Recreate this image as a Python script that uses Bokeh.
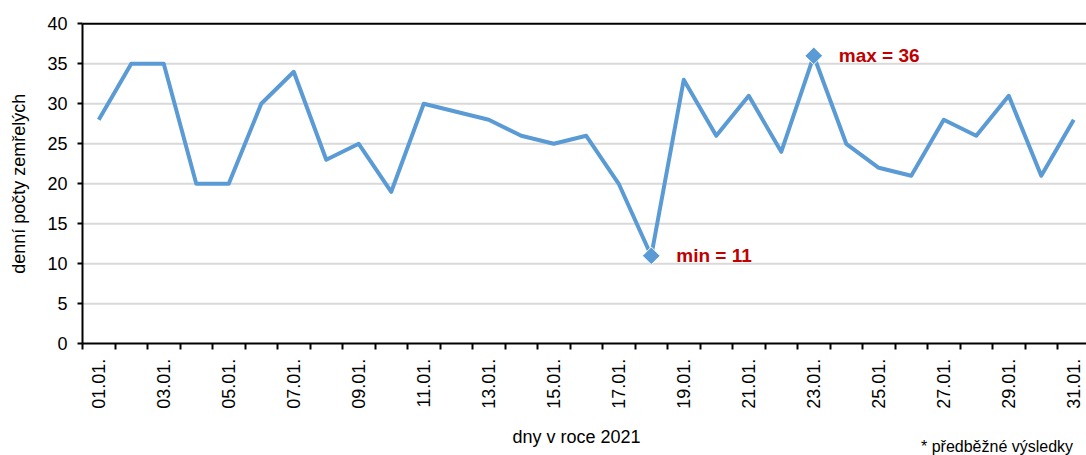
import math
from bokeh.plotting import figure
from bokeh.models import FixedTicker, Range1d
from bokeh.embed import file_html
from bokeh.resources import INLINE
from bokeh.core.properties import value

# ---- data ----
days = list(range(1, 32))
day_labels = [f"{d:02d}.01." for d in days]
deaths = [28, 35, 35, 20, 20, 30, 34, 23, 25, 19, 30, 29, 28, 26, 25, 26,
          20, 11, 33, 26, 31, 24, 36, 25, 22, 21, 28, 26, 31, 21, 28]
y_ticks = [0, 5, 10, 15, 20, 25, 30, 35, 40]
x_title = "dny v roce 2021"
y_title = "denní počty zemřelých"
footnote = "* předběžné výsledky"

FONT = "Liberation Sans"
BLUE = "#5B9BD5"
RED = "#C00000"

W, H = 1086, 455
PX_X = 32.5          # pixels per day
PX_Y = 8.0           # pixels per unit
LEFT, BOTTOM = 82, 343.3   # plot area left edge / zero line in pixels

x0 = 0.5 - LEFT / PX_X
x1 = 0.5 + (W - LEFT) / PX_X
y1 = BOTTOM / PX_Y
y0 = -(H - BOTTOM) / PX_Y

p = figure(width=W, height=H, title=None,
           x_range=Range1d(x0, x1), y_range=Range1d(y0, y1),
           output_backend="svg", toolbar_location=None,
           min_border_left=0, min_border_top=0,
           min_border_bottom=0, min_border_right=0)
p.outline_line_color = None
p.background_fill_color = "white"
p.border_fill_color = "white"
p.xgrid.visible = False
p.ygrid.visible = False

# gridlines (plot-area width only)
grid_y = [t for t in y_ticks if t > 0 and t < 40]
p.segment(x0=[0.5] * len(grid_y), y0=grid_y, x1=[31.5] * len(grid_y), y1=grid_y,
          line_color="#D9D9D9", line_width=2)
p.segment(x0=[0.5], y0=[40], x1=[31.5], y1=[40], line_color="black", line_width=2)

# x axis
p.xaxis.fixed_location = 0
p.xaxis.bounds = (0.5, 31.5)
p.xaxis.ticker = FixedTicker(ticks=days[::2],
                             minor_ticks=[d + 0.5 for d in range(0, 32)])
p.xaxis.major_label_overrides = {d: lab for d, lab in zip(days, day_labels)}
p.xaxis.major_label_orientation = math.pi / 2
p.xaxis.major_tick_out = 0
p.xaxis.major_tick_in = 0
p.xaxis.minor_tick_out = 6
p.xaxis.minor_tick_in = 0
p.xaxis.minor_tick_line_width = 2
p.xaxis.minor_tick_line_color = "black"
p.xaxis.axis_line_width = 2
p.xaxis.axis_line_color = "black"
p.xaxis.major_label_standoff = 9
p.xaxis.major_label_text_font = FONT
p.xaxis.major_label_text_font_size = "18px"
p.xaxis.major_label_text_color = "black"

# y axis
p.yaxis.fixed_location = 0.5
p.yaxis.bounds = (0, 40)
p.yaxis.ticker = FixedTicker(ticks=y_ticks)
p.yaxis.major_tick_out = 5
p.yaxis.major_tick_in = 0
p.yaxis.major_tick_line_width = 2
p.yaxis.major_tick_line_color = "black"
p.yaxis.minor_tick_line_color = None
p.yaxis.axis_line_width = 2
p.yaxis.axis_line_color = "black"
p.yaxis.major_label_standoff = 10
p.yaxis.major_label_text_font = FONT
p.yaxis.major_label_text_font_size = "18px"
p.yaxis.major_label_text_color = "black"

# series
p.line(days, deaths, line_color=BLUE, line_width=4, line_join="round")

mn = min(deaths)
mx = max(deaths)
x_mn = days[deaths.index(mn)]
x_mx = days[deaths.index(mx)]
p.scatter([x_mn, x_mx], [mn, mx], marker="square", angle=math.pi / 4,
          size=12.5, fill_color=BLUE, line_color="white", line_width=1)
p.text(x=[x_mn, x_mx], y=[mn, mx], text=[f"min = {mn}", f"max = {mx}"],
       x_offset=25, text_baseline="middle", text_align="left",
       text_font=value(FONT), text_font_style="bold",
       text_font_size="19px", text_color=RED)

# titles and footnote as text
p.text(x=[x0 + 18.5 / PX_X], y=[20], text=[y_title], angle=math.pi / 2,
       text_align="center", text_baseline="middle",
       text_font=value(FONT), text_font_size="18px", text_color="black")
p.text(x=[15.7], y=[-11.7], text=[x_title],
       text_align="center", text_baseline="middle",
       text_font=value(FONT), text_font_size="18px", text_color="black")
p.text(x=[26.3], y=[-12.8], text=[footnote],
       text_align="left", text_baseline="alphabetic",
       text_font=value(FONT), text_font_size="16px", text_color="black")

open("out.html", "w").write(file_html(p, INLINE))
